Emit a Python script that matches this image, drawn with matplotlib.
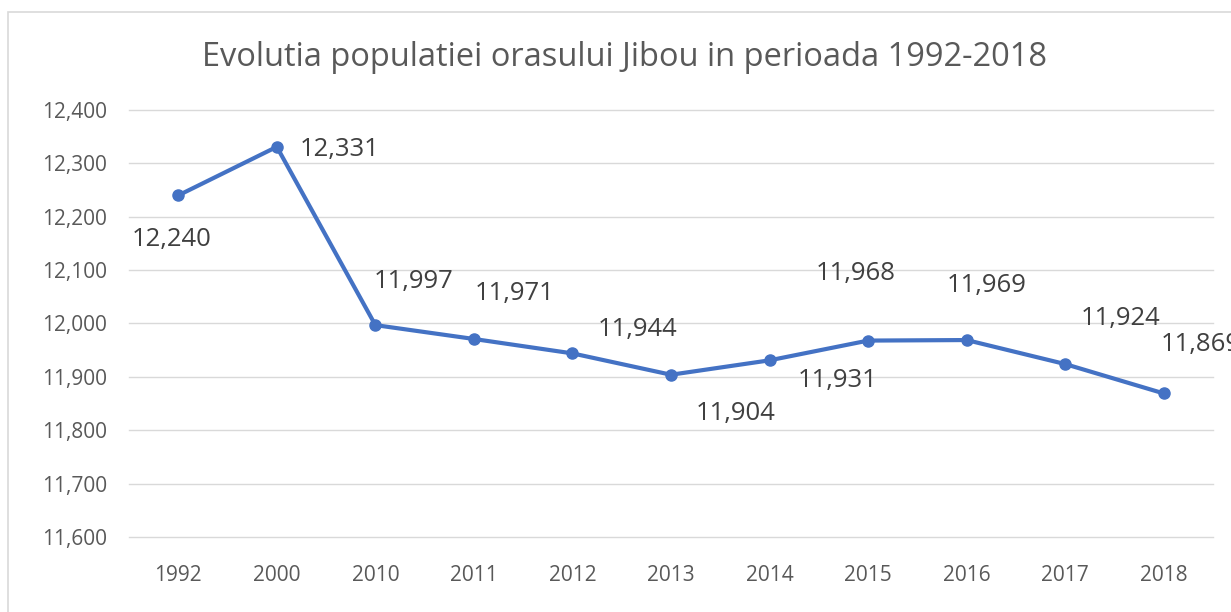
import matplotlib
matplotlib.use("Agg")
import matplotlib.pyplot as plt
from matplotlib.patches import Rectangle

years = ["1992", "2000", "2010", "2011", "2012", "2013", "2014", "2015", "2016", "2017", "2018"]
population = [12240, 12331, 11997, 11971, 11944, 11904, 11931, 11968, 11969, 11924, 11869]
yticks = [11600, 11700, 11800, 11900, 12000, 12100, 12200, 12300, 12400]
title = "Evolutia populatiei orasului Jibou in perioada 1992-2018"

# label offsets (pixels) relative to each point
label_offsets = [(-7, -44), (63, -3), (38, 44), (41, 45), (65, 24), (65, -39),
                 (68, -20), (-12, 67), (20, 55), (55, 46), (37, 49)]

plt.rcParams['font.family'] = ['Open Sans', 'DejaVu Sans']
fig = plt.figure(figsize=(12.31, 6.12), dpi=100)
fig.patch.set_facecolor("white")

# outer chart border
fig.add_artist(Rectangle((8 / 1231, -0.05), 1.1, 1 - 12 / 612 + 0.05, transform=fig.transFigure,
                         fill=False, edgecolor="#d9d9d9", linewidth=1.2))

ax = fig.add_axes([129 / 1231, 1 - 537 / 612, (1213 - 129) / 1231, (537 - 110) / 612])
x = list(range(len(years)))
ax.plot(x, population, color="#4472C4", linewidth=3, marker="o", markersize=8, zorder=3)

for xi, v, (dx, dy) in zip(x, population, label_offsets):
    ax.annotate(f"{v:,}", (xi, v), xytext=(dx, dy), textcoords="offset pixels",
                ha="center", va="center", fontsize=18.5, color="#404040", annotation_clip=False)

ax.set_xlim(-0.5, len(years) - 0.5)
ax.set_ylim(11600, 12400)
ax.set_yticks(yticks)
ax.set_yticklabels([f"{t:,}" for t in yticks])
ax.set_xticks(x)
ax.set_xticklabels(years)
ax.grid(axis="y", color="#d9d9d9", linewidth=1)
for gl in ax.get_ygridlines():
    gl.set_clip_on(False)
ax.set_axisbelow(True)
for s in ax.spines.values():
    s.set_visible(False)
ax.tick_params(axis="both", length=0, labelsize=15, labelcolor="#595959")
ax.tick_params(axis="y", pad=16)
ax.tick_params(axis="x", pad=20)

fig.text(625 / 1231, 1 - 57 / 612, title, ha="center", va="center", fontsize=23.5, color="#595959")

fig.savefig("out.png", dpi=100)
